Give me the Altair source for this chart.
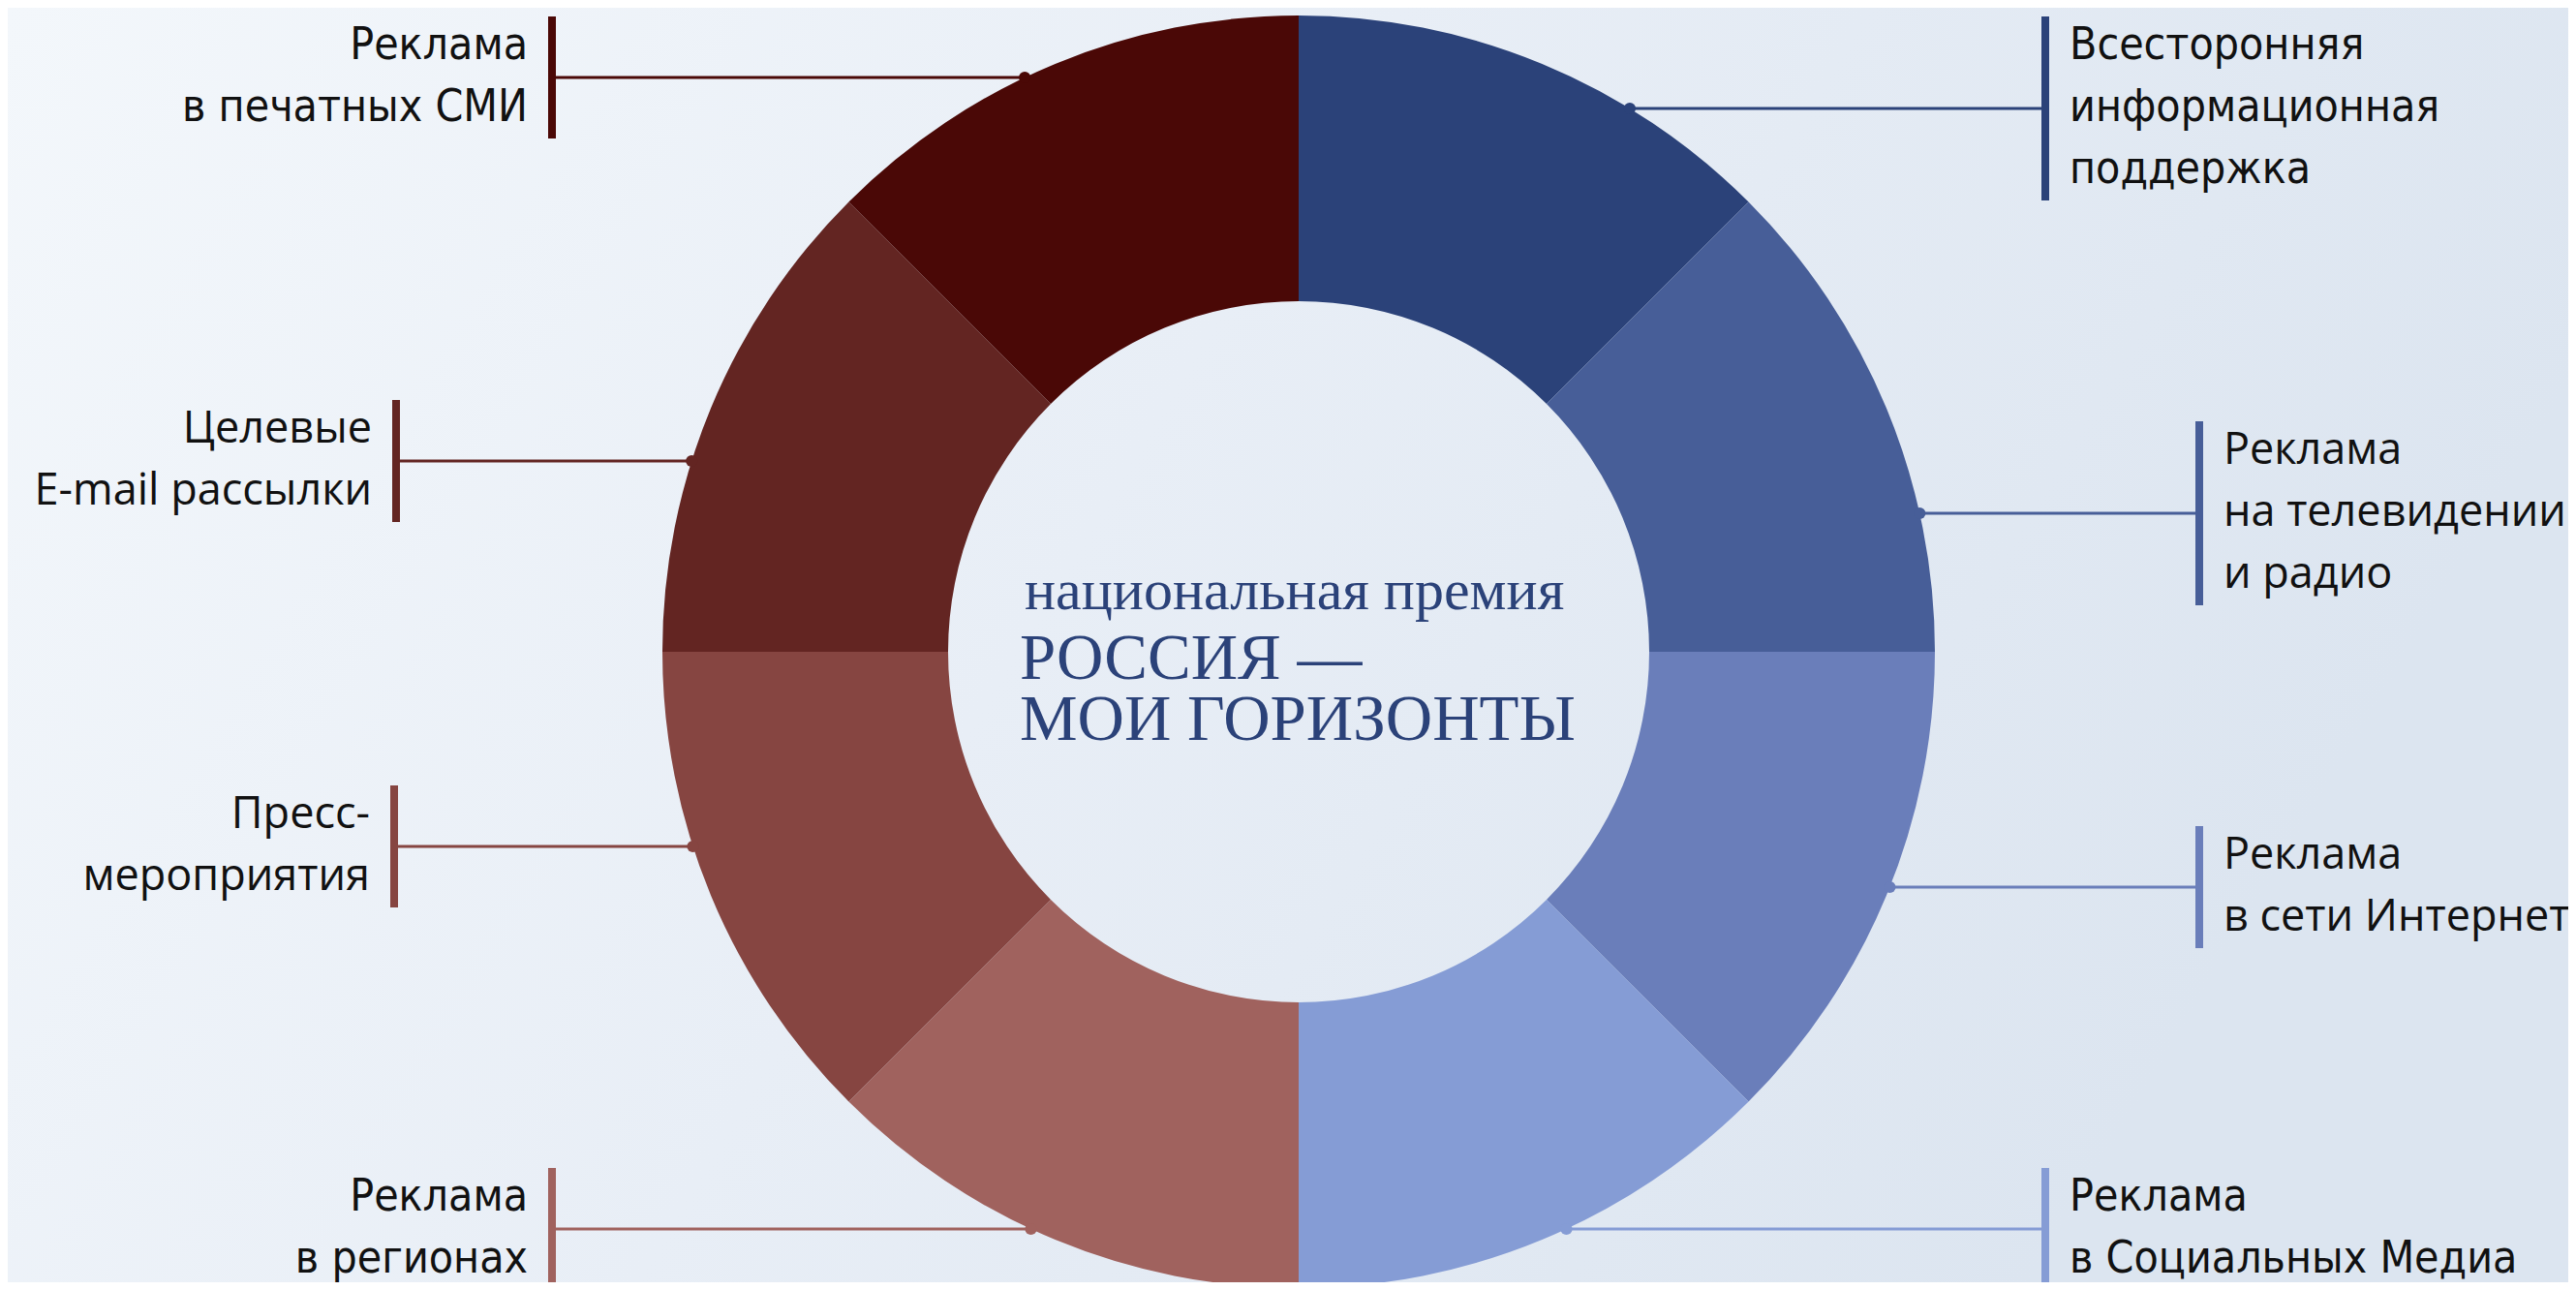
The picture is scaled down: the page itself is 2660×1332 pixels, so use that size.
import math
import altair as alt
import pandas as pd

# ---- chart content ----
segments = [
    "Всесторонняя информационная поддержка",
    "Реклама на телевидении и радио",
    "Реклама в сети Интернет",
    "Реклама в Социальных Медиа",
    "Реклама в регионах",
    "Пресс-мероприятия",
    "Целевые E-mail рассылки",
    "Реклама в печатных СМИ",
]
shares = [1, 1, 1, 1, 1, 1, 1, 1]
label_lines = [
    "Всесторонняя\nинформационная\nподдержка",
    "Реклама\nна телевидении\nи радио",
    "Реклама\nв сети Интернет",
    "Реклама\nв Социальных Медиа",
    "Реклама\nв регионах",
    "Пресс-\nмероприятия",
    "Целевые\nE-mail рассылки",
    "Реклама\nв печатных СМИ",
]
center_small = "национальная премия"
center_big = "РОССИЯ —\nМОИ ГОРИЗОНТЫ"

# ---- styles / layout (reference pixel coordinates) ----
colors = ["#2B4279", "#475E98", "#6A7EBA", "#859CD5",
          "#A0625E", "#864541", "#632522", "#4A0806"]
side = ["right", "right", "right", "right", "left", "left", "left", "left"]
narrow = [True, False, False, True, True, False, False, True]
line_y = [112, 530, 916, 1269, 1269, 874, 476, 80]
bar_x = [2112, 2271, 2271, 2112, 570, 407, 409, 570]
CX, CY, R_OUT, R_IN = 1341, 673, 657, 362
PAGE_W, PAGE_H, M = 2660, 1332, 8
W, H = PAGE_W - 2 * M, PAGE_H - 2 * M
LH = 64

xs = alt.Scale(domain=[M, PAGE_W - M], range=[0, W], nice=False, zero=False)
ys = alt.Scale(domain=[M, PAGE_H - M], range=[0, H], nice=False, zero=False)

seg_df = pd.DataFrame({
    "seg": segments, "share": shares, "ord": list(range(len(segments))),
    "cx": [CX] * len(segments), "cy": [CY] * len(segments),
})

rows = []
for i, name in enumerate(segments):
    n = label_lines[i].count("\n") + 1
    half = 63 if n == 2 else 95
    ly = line_y[i]
    dx = math.sqrt(max(R_OUT ** 2 - (CY - ly) ** 2, 0))
    dot_x = CX + dx if side[i] == "right" else CX - dx
    tx = bar_x[i] + 25 if side[i] == "right" else bar_x[i] - 25
    rows.append({
        "seg": name, "label": label_lines[i], "ly": ly, "dot_x": dot_x,
        "bx": bar_x[i], "by1": ly - half, "by2": ly + half,
        "tx": tx, "ty": ly - (51 if n == 3 else 19),
        "side": side[i], "narrow": narrow[i],
    })
lab_df = pd.DataFrame(rows)

color_scale = alt.Scale(domain=segments, range=colors)

bg = alt.Chart(pd.DataFrame({"x": [M], "x2": [PAGE_W - M], "y": [M], "y2": [PAGE_H - M]})).mark_rect(
    color=alt.LinearGradient(gradient="linear", x1=0, x2=1, y1=0, y2=0.3,
                             stops=[alt.GradientStop(color="#F3F7FB", offset=0),
                                    alt.GradientStop(color="#E8EEF6", offset=0.5),
                                    alt.GradientStop(color="#DCE5F0", offset=1)])
).encode(
    x=alt.X("x:Q", scale=xs, axis=None), x2="x2:Q",
    y=alt.Y("y:Q", scale=ys, axis=None), y2="y2:Q",
)

donut = alt.Chart(seg_df).mark_arc(radius=R_OUT, radius2=R_IN, stroke=None).encode(
    theta=alt.Theta("share:Q", stack=True),
    order=alt.Order("ord:Q"),
    color=alt.Color("seg:N", scale=color_scale, legend=None),
    x=alt.X("cx:Q", scale=xs, axis=None),
    y=alt.Y("cy:Q", scale=ys, axis=None),
)

leaders = alt.Chart(lab_df).mark_rule(strokeWidth=3).encode(
    x=alt.X("dot_x:Q", scale=xs, axis=None), x2="bx:Q",
    y=alt.Y("ly:Q", scale=ys, axis=None),
    color=alt.Color("seg:N", scale=color_scale, legend=None),
)

dots = alt.Chart(lab_df).mark_circle(size=150, opacity=1).encode(
    x=alt.X("dot_x:Q", scale=xs, axis=None),
    y=alt.Y("ly:Q", scale=ys, axis=None),
    color=alt.Color("seg:N", scale=color_scale, legend=None),
)

bars = alt.Chart(lab_df).mark_rule(strokeWidth=8).encode(
    x=alt.X("bx:Q", scale=xs, axis=None),
    y=alt.Y("by1:Q", scale=ys, axis=None), y2="by2:Q",
    color=alt.Color("seg:N", scale=color_scale, legend=None),
)

def label_layer(df, align, font, size):
    return alt.Chart(df).mark_text(
        align=align, baseline="alphabetic", font=font, fontSize=size,
        lineHeight=LH, lineBreak="\n", color="#111111",
    ).encode(
        x=alt.X("tx:Q", scale=xs, axis=None),
        y=alt.Y("ty:Q", scale=ys, axis=None),
        text="label:N",
    )

narrow_font = "Liberation Sans Narrow, DejaVu Sans Condensed, Roboto"
wide_font = "Open Sans"
labels = [
    label_layer(lab_df[(lab_df.side == "right") & lab_df.narrow], "left", narrow_font, 46),
    label_layer(lab_df[(lab_df.side == "left") & lab_df.narrow], "right", narrow_font, 46),
    label_layer(lab_df[(lab_df.side == "right") & ~lab_df.narrow], "left", wide_font, 45),
    label_layer(lab_df[(lab_df.side == "left") & ~lab_df.narrow], "right", wide_font, 45),
]

ctr_df = pd.DataFrame({"t": [center_small, center_big], "x": [1058, 1053], "y": [629, 701],
                       "k": ["small", "big"]})
ctr_small = alt.Chart(ctr_df[ctr_df.k == "small"]).mark_text(
    align="left", baseline="alphabetic", font="Liberation Serif", fontSize=60, color="#2B4279"
).encode(x=alt.X("x:Q", scale=xs, axis=None), y=alt.Y("y:Q", scale=ys, axis=None), text="t:N")
ctr_big = alt.Chart(ctr_df[ctr_df.k == "big"]).mark_text(
    align="left", baseline="alphabetic", font="Liberation Serif", fontSize=67, lineHeight=63,
    lineBreak="\n", color="#2B4279"
).encode(x=alt.X("x:Q", scale=xs, axis=None), y=alt.Y("y:Q", scale=ys, axis=None), text="t:N")

chart = alt.layer(bg, donut, leaders, bars, dots, *labels, ctr_small, ctr_big).properties(
    width=W, height=H, padding=0, autosize="none", background="#EEF3F9"
).configure_view(stroke=None)

chart.save("out.html", embed_options={"renderer": "svg", "actions": False})
